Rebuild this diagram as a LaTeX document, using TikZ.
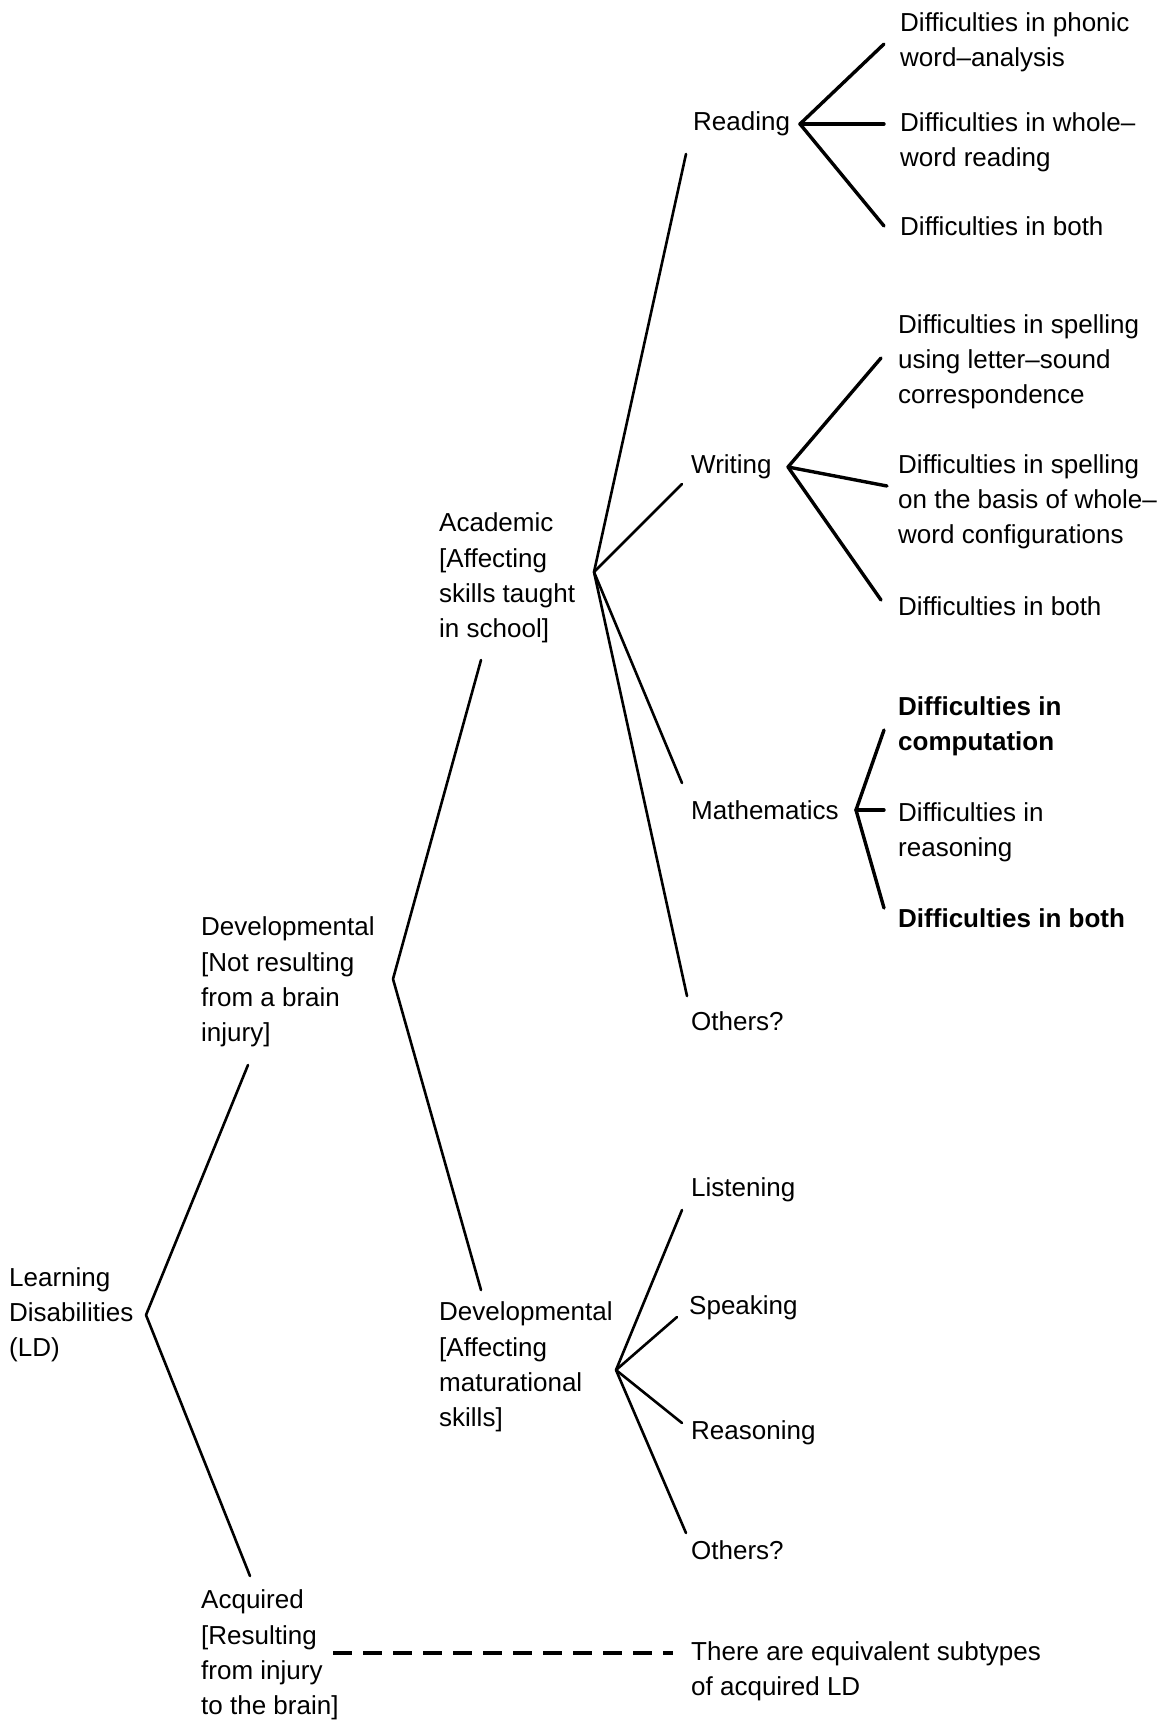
\documentclass[tikz,border=0pt]{standalone}
\usepackage{fontspec}
\setmainfont{Liberation Sans}
\begin{document}
\begin{tikzpicture}[x=1pt,y=-1pt,
  lbl/.style={anchor=west,align=left,inner sep=0pt,font=\fontsize{26}{35.2}\selectfont},
  bld/.style={lbl,font=\fontsize{26}{35.2}\selectfont\bfseries},
  trunk/.style={line width=2.6pt,line cap=round,line join=round},
  twig/.style={line width=3.4pt,line cap=round,line join=round},
  dsh/.style={line width=3.2pt,dash pattern=on 19pt off 11pt}]
\useasboundingbox (0,0) rectangle (1173,1725);
% text nodes
\node[lbl] (ld) at (9,1315) {Learning\\Disabilities\\(LD)};
\node[lbl] (dev) at (201,982) {Developmental\\{[}Not resulting\\from a brain\\injury{]}};
\node[lbl] (acq) at (201,1655) {Acquired\\{[}Resulting\\from injury\\to the brain{]}};
\node[lbl] (acad) at (439,578) {Academic\\{[}Affecting\\skills taught\\in school{]}};
\node[lbl] (mat) at (439,1367) {Developmental\\{[}Affecting\\maturational\\skills{]}};
\node[lbl] (read) at (693,124) {Reading};
\node[lbl] (writ) at (691,467) {Writing};
\node[lbl] (math) at (691,810) {Mathematics};
\node[lbl] (oth1) at (691,1021) {Others?};
\node[lbl] (list) at (691,1190) {Listening};
\node[lbl] (speak) at (689,1308) {Speaking};
\node[lbl] (reas) at (691,1433) {Reasoning};
\node[lbl] (oth2) at (691,1550) {Others?};
\node[lbl] (equiv) at (691,1671) {There are equivalent subtypes\\of acquired LD};
\node[lbl] (r1) at (900,42) {Difficulties in phonic\\word--analysis};
\node[lbl] (r2) at (900,142) {Difficulties in whole--\\word reading};
\node[lbl] (r3) at (900,226) {Difficulties in both};
\node[lbl] (w1) at (898,362) {Difficulties in spelling\\using letter--sound\\correspondence};
\node[lbl] (w2) at (898,502) {Difficulties in spelling\\on the basis of whole--\\word configurations};
\node[lbl] (w3) at (898,606) {Difficulties in both};
\node[bld] (m1) at (898,726) {Difficulties in\\computation};
\node[lbl] (m2) at (898,832) {Difficulties in\\reasoning};
\node[bld] (m3) at (898,918) {Difficulties in both};
% branch coordinates
\coordinate (ldA) at (146,1315);
\coordinate (devE) at (248,1065);
\coordinate (acqE) at (250,1576);
\coordinate (devA) at (393,979);
\coordinate (acadE) at (481,660);
\coordinate (matE) at (481,1290);
\coordinate (acadA) at (594,572);
\coordinate (readE) at (686,154);
\coordinate (writE) at (682,484);
\coordinate (mathE) at (682,783);
\coordinate (oth1E) at (687,996);
\coordinate (matA) at (616,1370);
\coordinate (listE) at (682,1210);
\coordinate (speakE) at (677,1317);
\coordinate (reasE) at (682,1423);
\coordinate (oth2E) at (686,1533);
\coordinate (readA) at (800,124);
\coordinate (r1E) at (884,44);
\coordinate (r2E) at (884,124);
\coordinate (r3E) at (884,226);
\coordinate (writA) at (788,467);
\coordinate (w1E) at (881,358);
\coordinate (w2E) at (887,486);
\coordinate (w3E) at (881,600);
\coordinate (mathA) at (856,810);
\coordinate (m1E) at (884,730);
\coordinate (m2E) at (884,810);
\coordinate (m3E) at (884,908);
\coordinate (acqD) at (333,1653);
\coordinate (equivD) at (673,1653);
% connectors
\draw[trunk] (devE) -- (ldA) -- (acqE);
\draw[trunk] (acadE) -- (devA) -- (matE);
\draw[trunk] (acadA) -- (readE);
\draw[trunk] (acadA) -- (writE);
\draw[trunk] (acadA) -- (mathE);
\draw[trunk] (acadA) -- (oth1E);
\draw[trunk] (matA) -- (listE);
\draw[trunk] (matA) -- (speakE);
\draw[trunk] (matA) -- (reasE);
\draw[trunk] (matA) -- (oth2E);
\draw[twig] (r1E) -- (readA) -- (r3E);
\draw[twig] (readA) -- (r2E);
\draw[twig] (w1E) -- (writA) -- (w3E);
\draw[twig] (writA) -- (w2E);
\draw[twig] (m1E) -- (mathA) -- (m3E);
\draw[twig] (mathA) -- (m2E);
\draw[dsh] (acqD) -- (equivD);
\end{tikzpicture}
\end{document}
